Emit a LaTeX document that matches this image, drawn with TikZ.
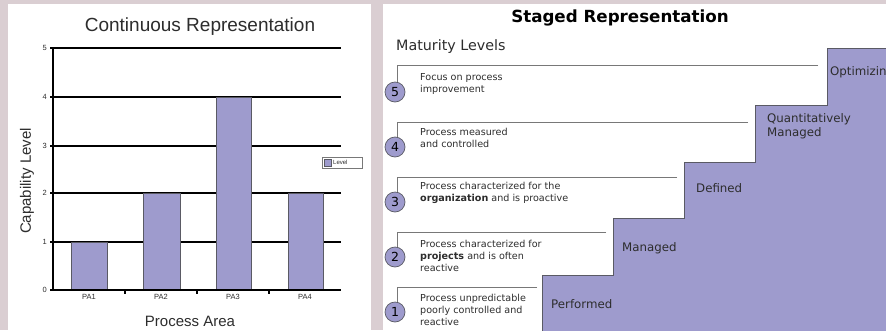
\documentclass[tikz,border=0pt]{standalone}
\usepackage{fontspec}
\setmainfont{DejaVu Sans}
\newfontfamily\arialf{Liberation Sans}
\definecolor{bgc}{RGB}{218,206,210}
\definecolor{lav}{RGB}{158,155,205}
\definecolor{edgec}{RGB}{90,90,100}
\definecolor{txtc}{RGB}{45,45,45}
\definecolor{linec}{RGB}{120,120,120}
\begin{document}
\begin{tikzpicture}[x=1pt,y=-1pt,
  grid/.style={line width=2pt,black},
  bar/.style={fill=lav,draw=edgec,line width=0.6pt},
  ticklab/.style={font=\arialf\fontsize{7.5}{8}\selectfont,text=txtc,inner sep=1pt},
  axlab/.style={font=\arialf\fontsize{15}{17}\selectfont,text=txtc,inner sep=0pt},
  circ/.style={circle,fill=lav,draw=edgec,line width=0.7pt,minimum size=20pt,inner sep=0pt,font=\fontsize{12.5}{12.5}\selectfont,text=black},
  desc/.style={anchor=north west,align=left,inner sep=0pt,font=\fontsize{9.6}{12}\selectfont,text=txtc},
  lvl/.style={line width=0.7pt,linec},
  steplab/.style={anchor=west,align=left,inner sep=0pt,font=\fontsize{11.8}{14}\selectfont,text=txtc}]
\useasboundingbox (0,0) rectangle (886,330);
\fill[bgc] (0,0) rectangle (886,330);
\fill[white] (8,4) rectangle (371,330);
\fill[white] (383,4) rectangle (886,330);

% ---------- Continuous representation ----------
\node[font=\arialf\fontsize{19}{22}\selectfont,text=txtc,inner sep=0pt] (ctitle) at (200,27) {Continuous Representation};
\foreach \v/\y in {0/290,1/242,2/193,3/146,4/97,5/48}{
  \draw[grid] (50,\y) -- (341,\y);
  \node[ticklab,anchor=east] (yl\v) at (48,\y) {\v};
}
\draw[grid] (53,47) -- (53,291);
\foreach \x in {125,197,269}{\draw[line width=2pt] (\x,290) -- (\x,294);}
\fill[bar] (71,242) rectangle (107,290);
\fill[bar] (143,193) rectangle (180,290);
\fill[bar] (216,97) rectangle (251,290);
\fill[bar] (288,193) rectangle (323,290);
\draw[grid] (50,290) -- (341,290);
\foreach \n/\x in {1/89,2/161,3/233,4/305}{
  \node[ticklab] (pa\n) at (\x,296.5) {PA\n};
}
\node[axlab] (xlab) at (190,321) {Process Area};
\node[axlab,rotate=90] (ylab) at (27,181) {Capability Level};
\draw[line width=0.5pt,linec] (322,157) rectangle (362,168);
\fill[lav,draw=edgec,line width=0.4pt] (324.5,159) rectangle (331,166);
\node[anchor=west,inner sep=0pt,font=\arialf\fontsize{6}{6}\selectfont,text=txtc] (leg) at (333,162.5) {Level};

% ---------- Staged representation ----------
\node[font=\bfseries\fontsize{16.7}{19}\selectfont,text=black,inner sep=0pt] (stitle) at (620,18) {Staged Representation};
\node[anchor=west,inner sep=0pt,font=\fontsize{14.3}{16}\selectfont,text=txtc] (ml) at (396,47) {Maturity Levels};

\begin{scope}
\clip (383,4) rectangle (886,330);
\fill[lav,draw=edgec,line width=0.7pt] (542,331) -- (542,275) -- (613,275) -- (613,218) -- (684,218) -- (684,162) -- (755,162) -- (755,105) -- (827,105) -- (827,48) -- (887,48) -- (887,331) -- cycle;
\node[steplab] (s1) at (551,304) {Performed};
\node[steplab] (s2) at (622,248) {Managed};
\node[steplab] (s3) at (696,188) {Defined};
\node[steplab] (s4) at (767,126) {Quantitatively\\Managed};
\node[steplab] (s5) at (830,72) {Optimizing};
\end{scope}

\foreach \n/\y/\xe in {5/65/818,4/122/748,3/177/677,2/232/606,1/287/537}{
  \coordinate (l\n) at (397,\y);
  \coordinate (e\n) at (\xe,\y);
}
\node[circ] (c5) at (395,92) {5};
\node[circ] (c4) at (395,147) {4};
\node[circ] (c3) at (395,202) {3};
\node[circ] (c2) at (395,257) {2};
\node[circ] (c1) at (395,312) {1};
\foreach \n in {1,...,5}{
  \draw[lvl] (e\n) -- (l\n) -- (l\n |- c\n.north);
}
\node[desc] (d5) at (420,73) {Focus on process\\improvement};
\node[desc] (d4) at (420,128) {Process measured\\and controlled};
\node[desc] (d3) at (420,182.5) {Process characterized for the\\\textbf{organization} and is proactive};
\node[desc] (d2) at (420,239.5) {Process characterized for\\\textbf{projects} and is often\\reactive};
\node[desc] (d1) at (420,293.5) {Process unpredictable\\poorly controlled and\\reactive};
\end{tikzpicture}
\end{document}
